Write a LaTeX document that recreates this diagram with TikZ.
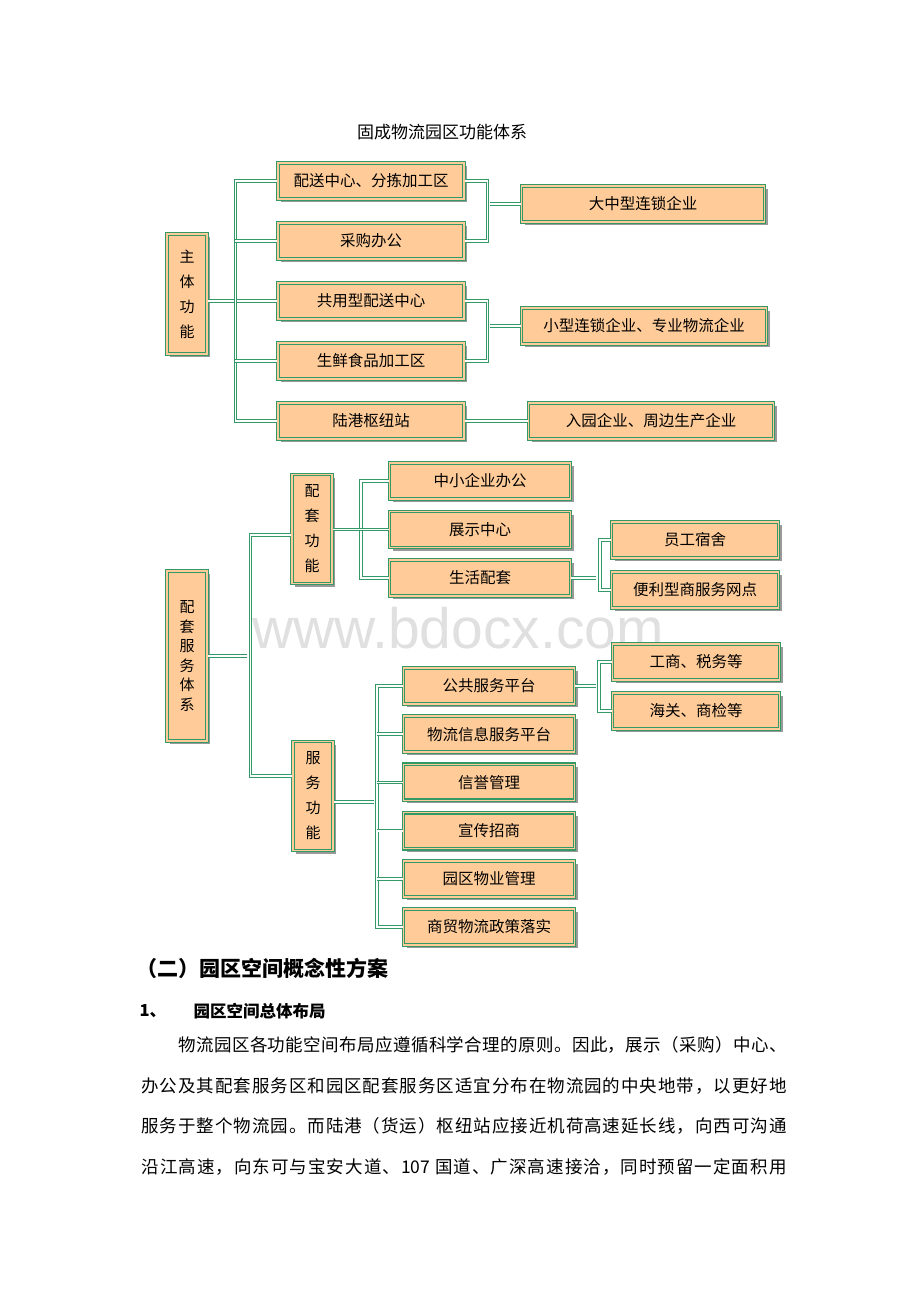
\documentclass[tikz,border=0pt]{standalone}
\usepackage{fontspec}
\newfontfamily\cjk{Noto Sans CJK SC}
\newfontfamily\wmfont{Liberation Sans}
\usetikzlibrary{positioning,shadows}
\definecolor{linegreen}{RGB}{51,153,102}
\definecolor{boxorange}{RGB}{255,204,153}
\tikzstyle{box}=[rectangle,draw=linegreen,line width=1.1pt,double=boxorange,double distance=1.7pt,fill=boxorange,drop shadow={shadow xshift=3pt,shadow yshift=-3pt,fill=black!40,opacity=1},inner sep=0pt,minimum height=36pt,font=\cjk\fontsize{15.5}{15.5}\selectfont]
\tikzstyle{vbox}=[box,align=center,minimum width=40pt,font=\cjk\fontsize{15}{25}\selectfont]
\tikzstyle{link}=[draw=linegreen,line width=0.9pt,double=white,double distance=1.8pt]
\makeatletter
\newcommand\jline[2]{\hbox to #1{\@tfor\jc:=#2\do{\jc\hfil}\unskip}}
\makeatother

\begin{document}
\begin{tikzpicture}[x=1pt,y=-1pt,on grid]
    \useasboundingbox (0,0) rectangle (920,1302);

    % Wasserzeichen und Titel
    \node[text=black!12,font=\wmfont\fontsize{57}{57}\selectfont] (wm) at (458,628) {www.bdocx.com};
    \node[font=\cjk\fontsize{17}{17}\selectfont] (title) at (442,132) {固成物流园区功能体系};

    % Hauptfunktion
    \node[vbox,minimum height=120pt] (zt) at (187,294) {主\\体\\功\\能};
    \node[box,minimum width=186pt] (n1) at (371,181) {配送中心、分拣加工区};
    \node[box,minimum width=186pt,below=60pt of n1] (n2) {采购办公};
    \node[box,minimum width=186pt,below=60pt of n2] (n3) {共用型配送中心};
    \node[box,minimum width=186pt,below=60pt of n3] (n4) {生鲜食品加工区};
    \node[box,minimum width=186pt,below=60pt of n4] (n5) {陆港枢纽站};
    \node[box,minimum width=243pt] (dz) at (643,204) {大中型连锁企业};
    \node[box,minimum width=245pt] (xz) at (644,326) {小型连锁企业、专业物流企业};
    \node[box,minimum width=245pt,right=280pt of n5] (rg) {入园企业、周边生产企业};

    \draw[link] (zt.east |- n3.west) -- (n3.west);
    \draw[link] (n1.west) -- ++(-42,0) |- (n5.west);
    \draw[link] (n2.west) -- ++(-42,0);
    \draw[link] (n4.west) -- ++(-42,0);
    \draw[link] (n1.east) -- ++(23,0) |- (n2.east);
    \draw[link] (dz.west) -- ++(-31,0);
    \draw[link] (n3.east) -- ++(23,0) |- (n4.east);
    \draw[link] (xz.west) -- ++(-31,0);
    \draw[link] (n5.east) -- (rg.west);

    % Servicesystem
    \node[vbox,minimum height=170pt,font=\cjk\fontsize{15}{19.5}\selectfont] (pf) at (187,656) {配\\套\\服\\务\\体\\系};
    \node[vbox,minimum height=109pt] (ptgn) at (312,529) {配\\套\\功\\能};
    \node[vbox,minimum height=109pt] (fwgn) at (313,796) {服\\务\\功\\能};

    \node[box,minimum width=181pt] (a1) at (480,481) {中小企业办公};
    \node[box,minimum width=181pt,below=48.5pt of a1] (a2) {展示中心};
    \node[box,minimum width=181pt,below=48.5pt of a2] (a3) {生活配套};
    \node[box,minimum width=167pt] (y1) at (695,540) {员工宿舍};
    \node[box,minimum width=167pt,below=50pt of y1] (y2) {便利型商服务网点};

    \node[box,minimum width=171pt] (s1) at (489,686) {公共服务平台};
    \node[box,minimum width=171pt,below=48.2pt of s1] (s2) {物流信息服务平台};
    \node[box,minimum width=171pt,below=48.2pt of s2] (s3) {信誉管理};
    \node[box,minimum width=171pt,below=48.2pt of s3] (s4) {宣传招商};
    \node[box,minimum width=171pt,below=48.2pt of s4] (s5) {园区物业管理};
    \node[box,minimum width=171pt,below=48.2pt of s5] (s6) {商贸物流政策落实};
    \node[box,minimum width=167pt] (g1) at (696,662) {工商、税务等};
    \node[box,minimum width=167pt,below=49pt of g1] (g2) {海关、商检等};

    \draw[link] (pf.east) -- ++(39,0);
    \draw[link] ([yshift=-6pt]ptgn.west) -- ++(-41,0) |- ([yshift=20pt]fwgn.west);
    \draw[link] (a1.west) -- ++(-28,0) |- (a3.west);
    \draw[link] (ptgn.east |- a2.west) -- (a2.west);
    \draw[link] (y1.west) -- ++(-11,0) |- (y2.west);
    \draw[link] (a3.east) -- ++(25,0);
    \draw[link] (s1.west) -- ++(-26,0) |- (s6.west);
    \draw[link] (s2.west) -- ++(-26,0);
    \draw[link] (s3.west) -- ++(-26,0);
    \draw[link] (s4.west) -- ++(-26,0);
    \draw[link] (s5.west) -- ++(-26,0);
    \draw[link] ([yshift=-6pt]fwgn.east) -- ++(40,0);
    \draw[link] (g1.west) -- ++(-13,0) |- (g2.west);
    \draw[link] (s1.east) -- ++(21,0);

    % Fliesstext
    \node[anchor=west,font=\cjk\bfseries\fontsize{21}{21}\selectfont] (h2) at (133,968) {（二）园区空间概念性方案};
    \node[anchor=west,font=\cjk\bfseries\fontsize{16.5}{16.5}\selectfont] (h3n) at (136,1011) {1、};
    \node[anchor=west,font=\cjk\bfseries\fontsize{16.5}{16.5}\selectfont] (h3) at (190,1011) {园区空间总体布局};
    \node[anchor=west,font=\cjk\fontsize{17.5}{17.5}\selectfont] (p1) at (175,1045) {\jline{608pt}{物流园区各功能空间布局应遵循科学合理的原则。因此，展示（采购）中心、}};
    \node[anchor=west,font=\cjk\fontsize{17.5}{17.5}\selectfont] (p2) at (138,1086) {\jline{645pt}{办公及其配套服务区和园区配套服务区适宜分布在物流园的中央地带，以更好地}};
    \node[anchor=west,font=\cjk\fontsize{17.5}{17.5}\selectfont] (p3) at (138,1126) {\jline{645pt}{服务于整个物流园。而陆港（货运）枢纽站应接近机荷高速延长线，向西可沟通}};
    \node[anchor=west,font=\cjk\fontsize{17.5}{17.5}\selectfont] (p4) at (138,1167) {\jline{645pt}{沿江高速，向东可与宝安大道、{107 }国道、广深高速接洽，同时预留一定面积用}};

\end{tikzpicture}
\end{document}
